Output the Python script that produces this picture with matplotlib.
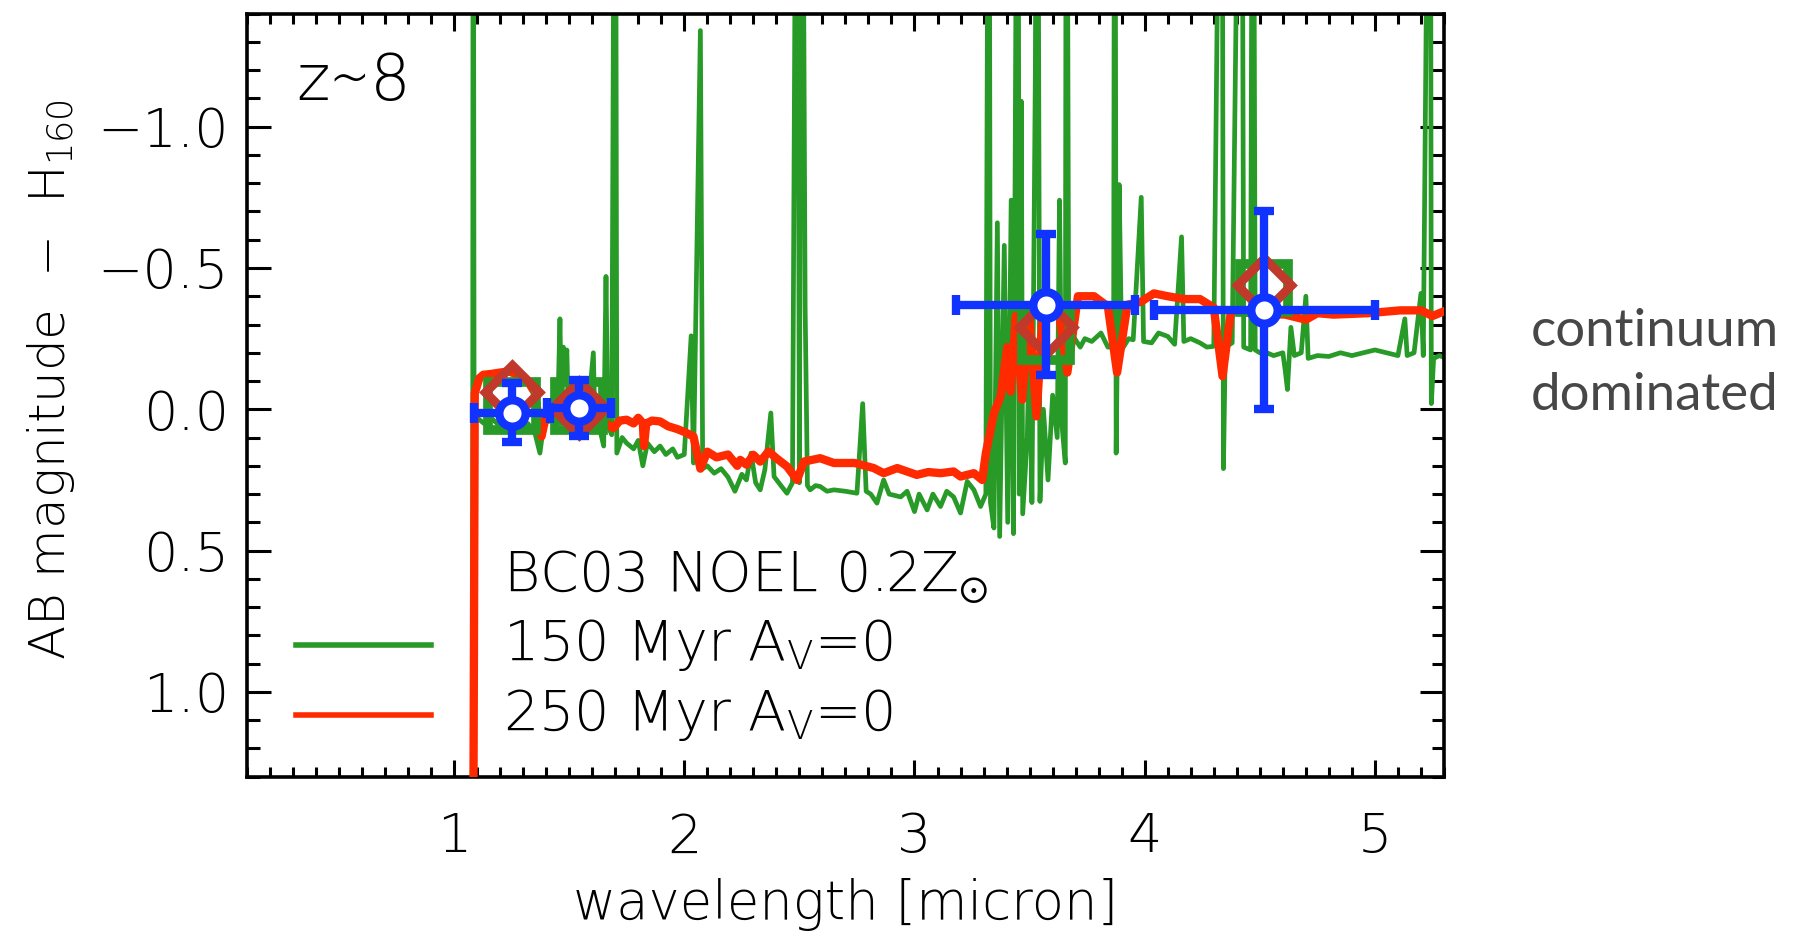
import matplotlib
matplotlib.use('Agg')
import matplotlib.pyplot as plt
from matplotlib.ticker import MultipleLocator, FuncFormatter

# ---------------- data ----------------
# BC03 150 Myr model (with emission lines), wavelength [micron], AB mag - H160
wl_150 = [1.070, 1.080, 1.083, 1.087, 1.10, 1.13, 1.16, 1.20, 1.24, 1.28, 1.32, 1.35,
          1.373, 1.39, 1.42, 1.45, 1.460, 1.467, 1.475, 1.482, 1.490, 1.497, 1.52, 1.55,
          1.58, 1.605, 1.612, 1.63, 1.65, 1.660, 1.668, 1.685, 1.700, 1.707, 1.73, 1.75,
          1.78, 1.80, 1.82, 1.84, 1.87, 1.895, 1.92, 1.95, 1.97, 2.00, 2.03, 2.04,
          2.07, 2.08, 2.10, 2.13, 2.16, 2.19, 2.22, 2.25, 2.27, 2.29, 2.31, 2.33,
          2.35, 2.376, 2.39, 2.42, 2.446, 2.47, 2.49, 2.50, 2.51, 2.525, 2.535, 2.547,
          2.57, 2.59, 2.62, 2.65, 2.70, 2.75, 2.775, 2.79, 2.81, 2.837, 2.866, 2.89,
          2.94, 2.968, 3.00, 3.02, 3.055, 3.08, 3.113, 3.14, 3.17, 3.20, 3.229, 3.258,
          3.287, 3.31, 3.323, 3.33, 3.345, 3.36, 3.37, 3.39, 3.405, 3.42, 3.43, 3.449,
          3.455, 3.464, 3.47, 3.49, 3.50, 3.51, 3.525, 3.533, 3.545, 3.56, 3.58, 3.60,
          3.62, 3.63, 3.64, 3.655, 3.66, 3.67, 3.69, 3.72, 3.74, 3.77, 3.81, 3.84,
          3.865, 3.870, 3.876, 3.889, 3.90, 3.93, 3.95, 3.985, 3.995, 4.03, 4.06, 4.10,
          4.13, 4.16, 4.17, 4.20, 4.24, 4.27, 4.30, 4.335, 4.342, 4.35, 4.38, 4.42,
          4.43, 4.46, 4.47, 4.48, 4.50, 4.53, 4.56, 4.60, 4.61, 4.62, 4.635, 4.65,
          4.68, 4.70, 4.71, 4.75, 4.80, 4.85, 4.90, 4.95, 5.00, 5.05, 5.10, 5.13,
          5.14, 5.17, 5.20, 5.21, 5.24, 5.245, 5.255, 5.28, 5.31]
mag_150 = [3.00, 2.00, -3.00, 0.02, 0.03, 0.05, 0.03, 0.06, 0.04, 0.06, 0.05, 0.08,
           0.155, 0.05, 0.04, 0.03, -0.32, 0.05, -0.22, -0.13, -0.21, 0.04, 0.02, 0.04,
           0.03, -0.20, 0.05, 0.06, 0.13, -0.47, 0.06, 0.09, -3.00, 0.155, 0.10, 0.12,
           0.14, 0.11, 0.20, 0.12, 0.15, 0.13, 0.16, 0.14, 0.17, 0.16, -0.26, 0.19,
           -1.34, 0.21, 0.20, 0.226, 0.21, 0.24, 0.29, 0.23, 0.25, 0.155, 0.26, 0.285,
           0.214, 0.013, 0.238, 0.27, 0.297, 0.26, -3.00, 0.26, -3.00, -0.36, 0.27, 0.285,
           0.27, 0.273, 0.29, 0.285, 0.29, 0.297, -0.02, 0.29, 0.30, 0.332, 0.25, 0.30,
           0.31, 0.29, 0.362, 0.30, 0.356, 0.30, 0.344, 0.29, 0.31, 0.367, 0.255, 0.285,
           0.344, 0.30, -3.00, 0.33, 0.42, -0.66, 0.45, -0.58, 0.40, -0.74, 0.44, -3.00,
           0.30, -1.09, 0.37, 0.10, -0.30, 0.33, -1.20, -3.00, 0.326, 0.00, 0.25, -0.05,
           0.10, -0.74, 0.05, 0.19, -3.00, -0.20, -0.258, -0.22, -0.25, -0.24, -0.27, -0.22,
           -0.22, -3.00, 0.155, -0.795, -0.21, -0.25, -0.246, -0.75, -0.24, -0.235, -0.27, -0.258,
           -0.23, -0.61, -0.24, -0.25, -0.235, -0.22, -0.223, -3.00, 0.21, -0.22, -0.235, -3.00,
           -0.22, -0.21, -3.00, -0.21, -0.20, -0.20, -0.19, -0.20, -0.14, -0.07, -0.29, -0.19,
           -0.20, -0.40, -0.18, -0.19, -0.187, -0.20, -0.19, -0.20, -0.21, -0.20, -0.19, -0.32,
           -0.19, -0.20, -0.41, -0.19, -3.00, -0.02, -0.18, -0.19, -0.18]

# BC03 250 Myr model
wl_250 = [1.075, 1.085, 1.09, 1.11, 1.127, 1.16, 1.20, 1.24, 1.28, 1.32, 1.35, 1.38,
          1.40, 1.44, 1.48, 1.52, 1.56, 1.60, 1.64, 1.692, 1.72, 1.75, 1.78, 1.80,
          1.82, 1.825, 1.835, 1.86, 1.895, 1.93, 1.97, 2.00, 2.04, 2.07, 2.10, 2.14,
          2.19, 2.23, 2.243, 2.27, 2.30, 2.33, 2.366, 2.40, 2.446, 2.49, 2.52, 2.59,
          2.65, 2.74, 2.823, 2.866, 2.925, 3.01, 3.06, 3.113, 3.17, 3.20, 3.258, 3.294,
          3.31, 3.345, 3.374, 3.403, 3.418, 3.44, 3.468, 3.497, 3.53, 3.56, 3.62, 3.664,
          3.71, 3.78, 3.84, 3.88, 3.925, 3.983, 4.04, 4.10, 4.17, 4.24, 4.30, 4.338,
          4.375, 4.46, 4.61, 4.70, 4.75, 4.82, 4.97, 5.11, 5.20, 5.25, 5.31]
mag_250 = [3.00, 1.20, -0.057, -0.11, -0.122, -0.125, -0.13, -0.134, -0.12, -0.10, -0.06, 0.096,
           0.02, 0.00, 0.01, 0.02, 0.02, 0.03, 0.04, 0.067, 0.04, 0.037, 0.05, 0.03,
           0.049, 0.13, 0.05, 0.04, 0.043, 0.06, 0.07, 0.08, 0.096, 0.21, 0.15, 0.17,
           0.16, 0.20, 0.179, 0.196, 0.161, 0.185, 0.149, 0.173, 0.202, 0.25, 0.185, 0.173,
           0.19, 0.19, 0.208, 0.226, 0.208, 0.232, 0.222, 0.226, 0.22, 0.238, 0.226, 0.25,
           0.155, 0.0135, -0.045, -0.22, -0.063, -0.33, -0.034, -0.35, 0.025, -0.376, -0.39, -0.13,
           -0.40, -0.40, -0.364, -0.13, -0.37, -0.38, -0.41, -0.40, -0.39, -0.39, -0.36, -0.117,
           -0.35, -0.34, -0.335, -0.317, -0.34, -0.335, -0.34, -0.35, -0.35, -0.33, -0.35]

# observed photometry (J125, H160, IRAC 3.6, IRAC 4.5)
obs_wl = [1.252, 1.543, 3.57, 4.52]
obs_wl_err = [0.165, 0.14, 0.39, 0.48]
obs_mag = [0.012, -0.004, -0.37, -0.35]
obs_mag_err = [0.105, 0.10, 0.25, 0.35]

# synthetic photometry of the models
phot_150 = [-0.01, -0.01, -0.26, -0.43]
phot_250 = [-0.06, -0.005, -0.29, -0.44]

xticks = [1, 2, 3, 4, 5]
yticks = [-1.0, -0.5, 0.0, 0.5, 1.0]

# ---------------- style ----------------
GREEN = '#289a28'
RED = '#ff2a00'
BLUE = '#1133ff'
BROWN = '#c0392b'
LIGHT = 200

plt.rcParams['font.family'] = ['DejaVu Sans']
plt.rcParams['font.weight'] = LIGHT
plt.rcParams['axes.labelweight'] = LIGHT
plt.rcParams['axes.unicode_minus'] = True

fig = plt.figure(figsize=(17.94, 9.31), dpi=100)
ax = fig.add_axes([0.1376, 0.1657, 0.6673, 0.8197])

ax.plot(wl_150, mag_150, color=GREEN, lw=3.4, zorder=2)
ax.plot(wl_250, mag_250, color=RED, lw=6, zorder=3)
ax.plot(obs_wl, phot_150, ls='none', marker='s', ms=35, mfc='none', mec=GREEN, mew=7, zorder=4)
ax.plot(obs_wl, phot_250, ls='none', marker='D', ms=27, mfc='none', mec=BROWN, mew=6.5, zorder=5)
ax.errorbar(obs_wl, obs_mag, xerr=obs_wl_err, yerr=obs_mag_err, fmt='o', color=BLUE,
            ecolor=BLUE, elinewidth=6, capsize=7, capthick=6.5, ms=19, mew=6,
            mfc='white', mec=BLUE, zorder=6)

ax.set_xlim(0.1, 5.3)
ax.set_ylim(1.3, -1.4)
ax.set_xticks(xticks)
ax.set_yticks(yticks)
ax.xaxis.set_minor_locator(MultipleLocator(0.1))
ax.yaxis.set_minor_locator(MultipleLocator(0.1))


def yfmt(v, p):
    if abs(v) < 1e-9:
        v = 0.0
    return f"{v:.1f}".replace('-', '\u2212')


ax.yaxis.set_major_formatter(FuncFormatter(yfmt))
ax.xaxis.set_major_formatter(FuncFormatter(lambda v, p: f"{int(round(v))}"))

for s in ax.spines.values():
    s.set_linewidth(2.6)
ax.tick_params(which='both', direction='in', top=True, right=True, width=2.2, labelsize=39)
ax.tick_params(axis='y', which='major', length=17, pad=13)
ax.tick_params(axis='y', which='minor', length=9)
ax.tick_params(axis='x', which='major', length=12, pad=25)
ax.tick_params(axis='x', which='minor', length=7)

ax.set_xlabel('wavelength [micron]', fontsize=38, va='center')
ax.xaxis.set_label_coords(0.5, -0.168)
ax.set_ylabel('AB magnitude  \u2212  H$\\mathregular{_{160}}$', fontsize=36, va='center')
ax.yaxis.set_label_coords(-0.1636, 0.52)

ax.text(0.041, 0.91, 'z\u223c8', transform=ax.transAxes, fontsize=46, ha='left', va='center')

# legend
ax.plot([0.041, 0.154], [0.172, 0.172], transform=ax.transAxes, color=GREEN, lw=4, clip_on=False)
ax.plot([0.041, 0.154], [0.081, 0.081], transform=ax.transAxes, color=RED, lw=4, clip_on=False)
ax.text(0.214, 0.262, 'BC03 NOEL 0.2Z$_{\\odot}$', transform=ax.transAxes, fontsize=40,
        ha='left', va='center')
ax.text(0.214, 0.172, '150 Myr A$\\mathregular{_V}$=0', transform=ax.transAxes, fontsize=40,
        ha='left', va='center')
ax.text(0.214, 0.081, '250 Myr A$\\mathregular{_V}$=0', transform=ax.transAxes, fontsize=40,
        ha='left', va='center')

fig.text(0.853, 0.6434, 'continuum', fontsize=38, color='#474747', ha='left', va='center',
         family='Lato', weight='normal')
fig.text(0.853, 0.5757, 'dominated', fontsize=38, color='#474747', ha='left', va='center',
         family='Lato', weight='normal')

fig.savefig('out.png', dpi=100)
